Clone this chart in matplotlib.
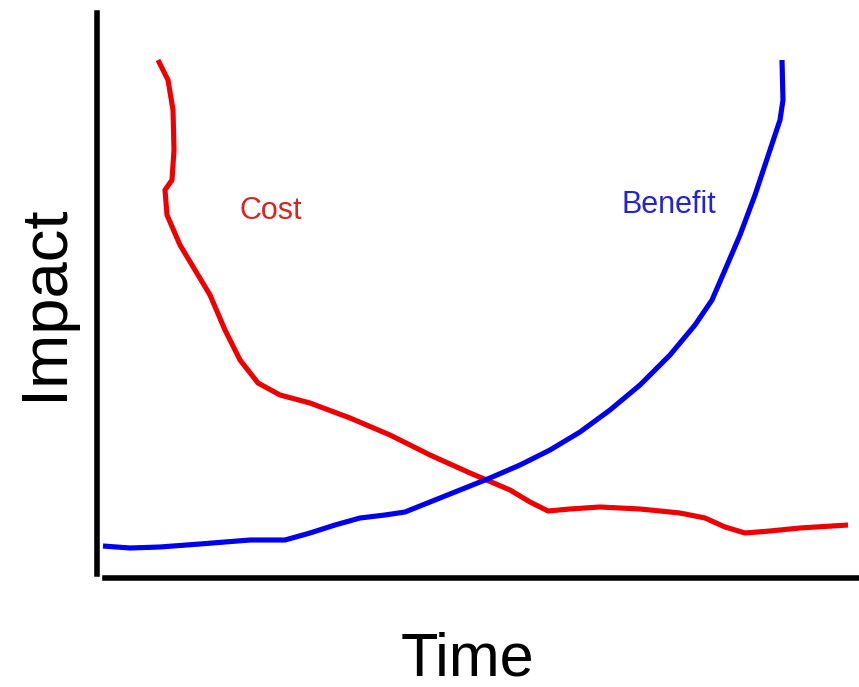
import matplotlib
matplotlib.use("Agg")
import matplotlib.pyplot as plt

# curves (x = time, y = impact, arbitrary units)
cost_x = [61, 71, 76, 77, 75, 68, 70, 83, 98, 113, 128, 143, 161, 183, 213, 253,
          293, 333, 373, 413, 433, 451, 473, 503, 543, 583, 608, 628, 648, 673, 703, 751]
cost_y = [517, 497, 467, 427, 397, 387, 362, 332, 307, 282, 247, 217, 194, 182, 174, 159,
          142, 122, 104, 87, 75, 66, 68, 70, 68, 64, 59, 50, 44, 46, 49, 52]

benefit_x = [6, 33, 63, 103, 153, 188, 213, 238, 263, 288, 308, 333, 363, 393, 423, 453,
             483, 513, 543, 573, 598, 615, 628, 643, 658, 673, 683, 686, 685]
benefit_y = [31, 29, 30, 33, 37, 37, 44, 52, 59, 62, 65, 75, 87, 99, 112, 127,
             145, 167, 192, 222, 252, 277, 307, 342, 382, 427, 457, 477, 517]

fig = plt.figure(figsize=(8.59, 6.87), dpi=100)
ax = fig.add_axes([97 / 859, 110 / 687, 762 / 859, 564 / 687])

ax.plot(cost_x, cost_y, color="#ee0000", lw=3.7, solid_capstyle="butt",
        solid_joinstyle="round")
ax.plot(benefit_x, benefit_y, color="#0000ee", lw=3.7, solid_capstyle="butt",
        solid_joinstyle="round")

ax.text(174, 366, "Cost", color="#dd2222", fontsize=22, ha="center", va="center",
        family="Liberation Sans")
ax.text(572, 372, "Benefit", color="#2222dd", fontsize=22, ha="center", va="center",
        family="Liberation Sans")

ax.set_xlim(0, 762)
ax.set_ylim(0, 564)
for s in ["top", "right"]:
    ax.spines[s].set_visible(False)
ax.spines["left"].set_linewidth(4)
ax.spines["bottom"].set_linewidth(4)
ax.spines["left"].set_bounds(3, 564)
ax.spines["bottom"].set_bounds(8, 762)
ax.spines["bottom"].set_position(("data", -1))
ax.set_xticks([])
ax.set_yticks([])

fig.text(467 / 859, 1 - 660 / 687, "Time", fontsize=44, ha="center", va="center",
         family="Liberation Sans")
fig.text(45 / 859, 1 - 302 / 687, "Impact", fontsize=47, ha="center", va="center",
         rotation=90, family="Liberation Sans")

fig.savefig("out.png", dpi=100)
